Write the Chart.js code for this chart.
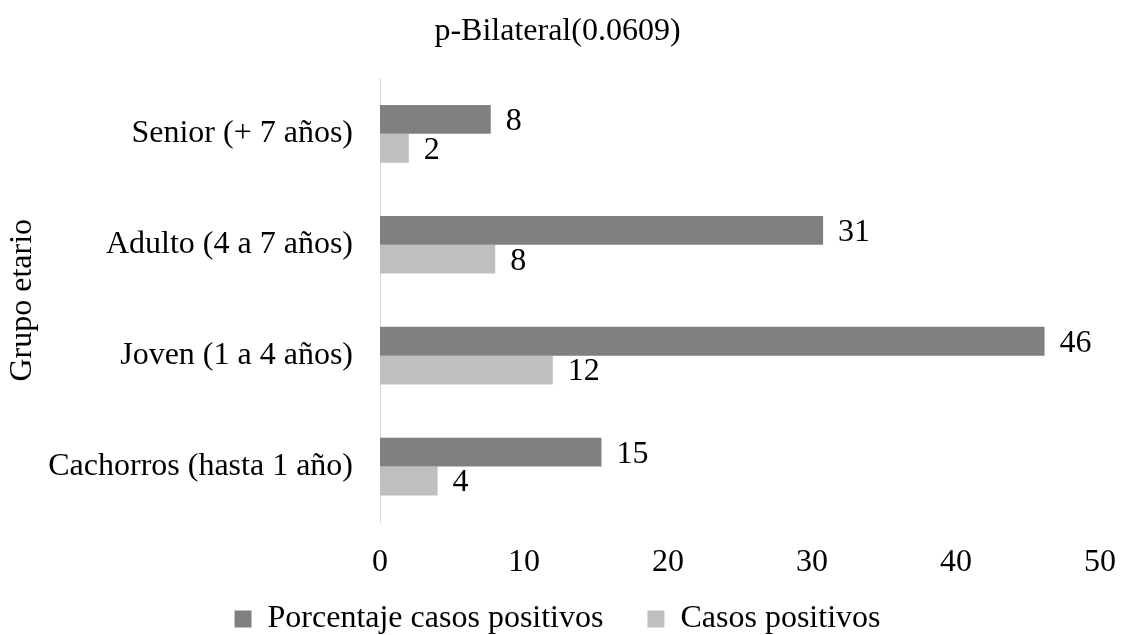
<!DOCTYPE html>
<html>
<head>
<meta charset="utf-8">
<script src="https://cdn.jsdelivr.net/npm/chart.js@4.4.0/dist/chart.umd.min.js"></script>
<style>
  html, body { margin: 0; padding: 0; background: #fff; }
  #wrap { width: 1122px; height: 635px; }
</style>
</head>
<body>
<div id="wrap"><canvas id="chart"></canvas></div>
<script>
// Values
const categories = [
  "Senior (+ 7 años)",
  "Adulto (4 a 7 años)",
  "Joven (1 a 4 años)",
  "Cachorros (hasta 1 año)",
];
const casosPositivos = [2, 8, 12, 4];
const porcentajeCasos = [7.69, 30.77, 46.15, 15.38];
const xTicks = [0, 10, 20, 30, 40, 50];

const FONT = "'Liberation Serif', 'Times New Roman', serif";
Chart.defaults.font.family = FONT;
Chart.defaults.font.size = 32;
Chart.defaults.color = "#000";

// simple value labels at the end of each bar
const barValues = {
  id: "barValues",
  afterDatasetsDraw(chart) {
    const ctx = chart.ctx;
    ctx.save();
    ctx.font = `32px ${FONT}`;
    ctx.fillStyle = "#000";
    ctx.textAlign = "left";
    ctx.textBaseline = "middle";
    chart.data.datasets.forEach((ds, i) => {
      const meta = chart.getDatasetMeta(i);
      meta.data.forEach((bar, j) => {
        ctx.fillText(Math.round(ds.data[j]), bar.x + 15, bar.y + 2);
      });
    });
    ctx.restore();
  },
};

// the x tick labels hang below the (short) x scale box, so let them through the clip
const xLabelRoom = {
  id: "xLabelRoom",
  afterLayout(chart) {
    chart.scales.x.bottom = chart.height;
  },
};

new Chart(document.getElementById("chart"), {
  type: "bar",
  data: {
    labels: categories,
    datasets: [
      {
        label: "Porcentaje casos positivos",
        data: porcentajeCasos,
        backgroundColor: "#808080",
        categoryPercentage: 0.52,
        barPercentage: 1,
      },
      {
        label: "Casos positivos",
        data: casosPositivos,
        backgroundColor: "#bfbfbf",
        categoryPercentage: 0.52,
        barPercentage: 1,
      },
    ],
  },
  options: {
    indexAxis: "y",
    responsive: true,
    maintainAspectRatio: false,
    animation: false,
    layout: { padding: { left: 0, right: 7, top: 0, bottom: -10 } },
    plugins: {
      title: {
        display: true,
        text: "p-Bilateral(0.0609)",
        font: { size: 32, weight: "normal" },
        color: "#000",
        padding: { top: 12, bottom: 28 },
      },
      legend: {
        position: "bottom",
        labels: {
          boxWidth: 17,
          boxHeight: 17,
          padding: 44,
          font: { size: 32 },
        },
      },
      tooltip: { enabled: false },
    },
    scales: {
      x: {
        min: 0,
        max: 50,
        afterBuildTicks: (s) => {
          s.ticks = xTicks.map((v) => ({ value: v }));
        },
        afterFit: (s) => {
          s.height = 37;
          s.paddingLeft = 0;
          s.paddingRight = 22;
        },
        grid: { display: false, drawTicks: false },
        border: { display: false },
        ticks: { padding: 21, font: { size: 32 } },
      },
      y: {
        afterFit: (s) => {
          s.width = 380;
        },
        grid: { display: false, drawTicks: false },
        border: { display: true, color: "#d9d9d9", width: 1 },
        ticks: { padding: 27, font: { size: 32 } },
        title: {
          display: true,
          text: "Grupo etario",
          font: { size: 32 },
          padding: { top: 3, bottom: 0 },
        },
      },
    },
  },
  plugins: [barValues, xLabelRoom],
});
</script>
</body>
</html>
